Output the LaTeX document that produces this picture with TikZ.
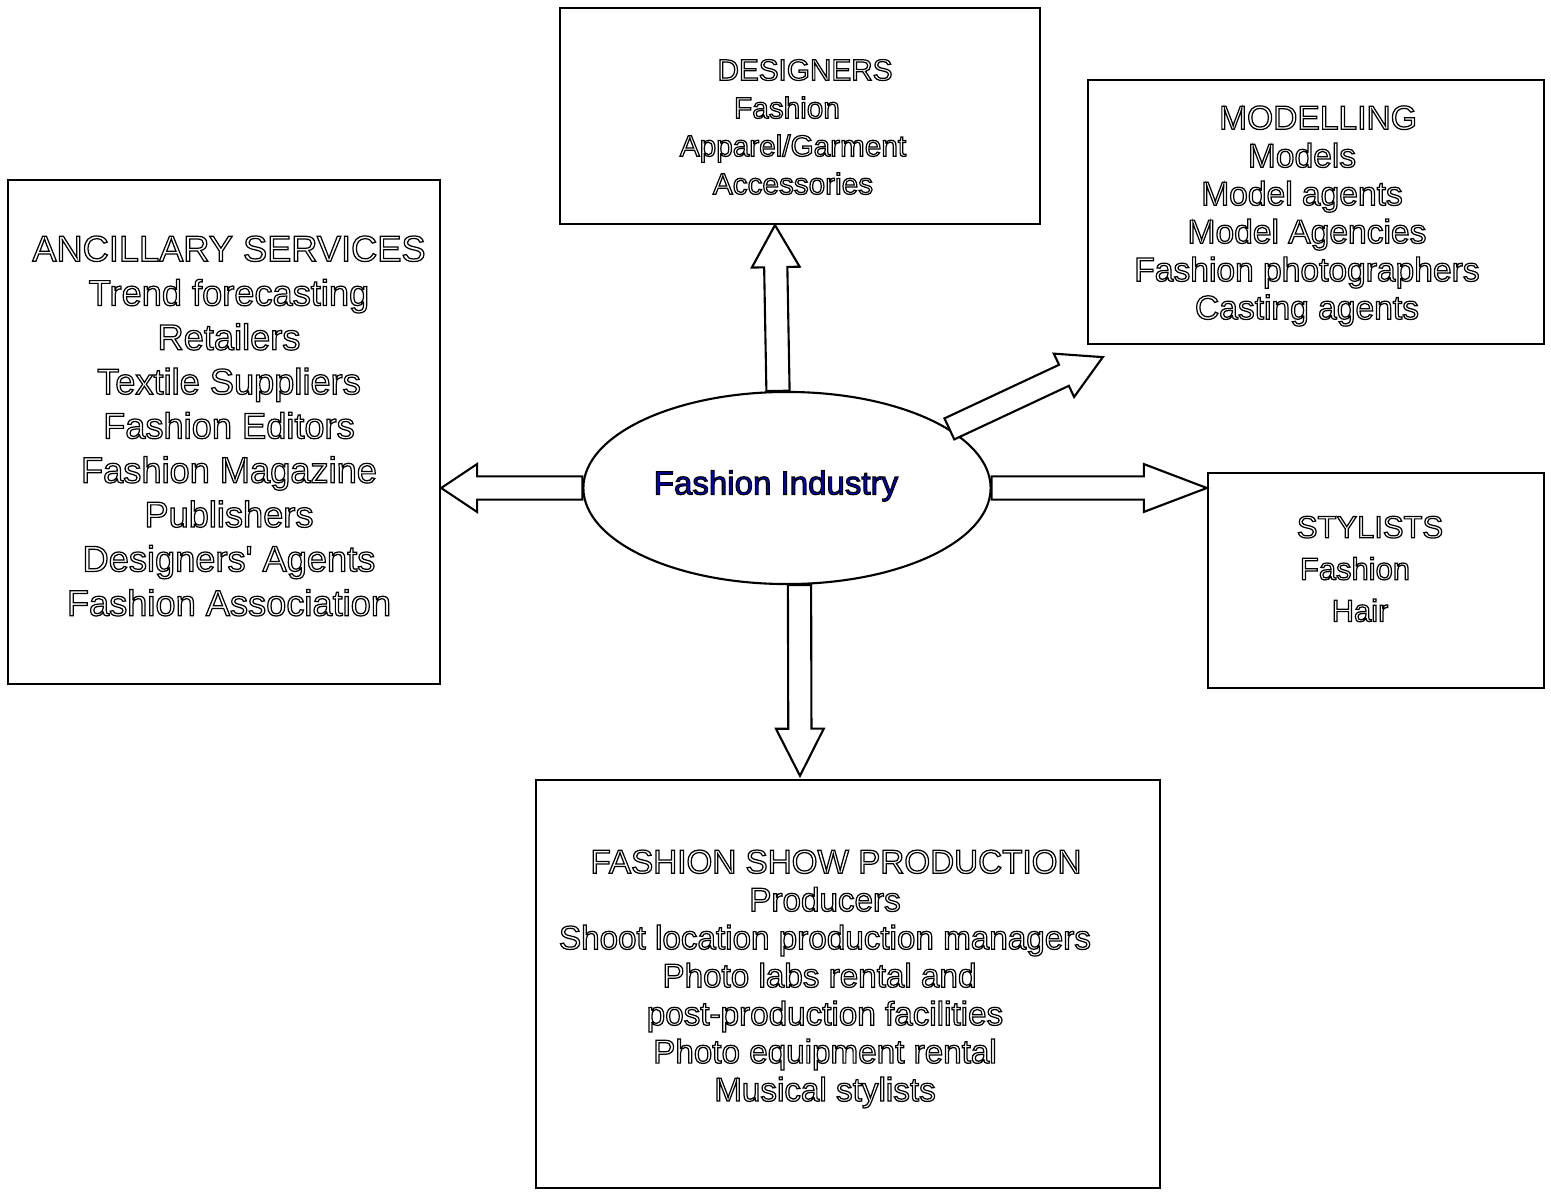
\documentclass[tikz,border=0pt]{standalone}
\usepackage{fontspec}
\setmainfont{Liberation Sans}[Ligatures=TeXOff]
\usepackage{tikz}
\usetikzlibrary{calc,shapes.geometric}

\definecolor{fiblue}{RGB}{0,0,190}
% outlined letters
\newcommand\hollow{\special{pdf:literal direct 0 0 0 RG 0.35 w 1 Tr}}
\newcommand\rimmed{\special{pdf:literal direct 0 0 0 RG 0.3 w 2 Tr}}

% fat arrow from #2 to #3, #1 = head length
\newcommand\blockarrow[3][12pt]{%
  \coordinate (hb) at ($(#3)!#1!(#2)$);
  \draw[line width=0.6pt,fill=white] ($(#2)!3.3pt!90:(#3)$) -- ($(hb)!3.3pt!90:(#3)$)
    -- ($(hb)!6.8pt!90:(#3)$) -- (#3) -- ($(hb)!6.8pt!-90:(#3)$)
    -- ($(hb)!3.3pt!-90:(#3)$) -- ($(#2)!3.3pt!-90:(#3)$) -- cycle;}

\begin{document}
\begin{tikzpicture}[x=0.01cm,y=-0.01cm]
	\useasboundingbox (0,0) rectangle (1551,1194);
		\begin{scope}[every node/.style={draw,line width=0.6pt,inner sep=0pt}]
			\node[minimum width=4.8cm,minimum height=2.16cm] (des) at (800,116) {};
			\node[minimum width=4.56cm,minimum height=2.64cm] (mod) at (1316,212) {};
			\node[minimum width=4.32cm,minimum height=5.04cm] (anc) at (224,432) {};
			\node[minimum width=3.36cm,minimum height=2.15cm] (sty) at (1376,580.5) {};
			\node[minimum width=6.24cm,minimum height=4.08cm] (fsp) at (848,984) {};
			\node[ellipse,fill=white,minimum width=4.07cm,minimum height=1.92cm,
				text=fiblue,font=\fontsize{9.4}{11}\selectfont] (fi) at (787,488)
				{\raisebox{0.11cm}{\rimmed Fashion Industry}\hspace*{0.22cm}};
		\end{scope}
		\begin{scope}[every node/.style={align=center,inner sep=0pt}]
			\node[font=\fontsize{8.45}{10.8}\selectfont] (desT) at (793,127)
				{\hollow\hspace*{0.24cm}DESIGNERS\\Fashion\kern0.12cm\\Apparel/Garment\\Accessories};
			\node[font=\fontsize{9.55}{10.8}\selectfont] (modT) at (1307,216)
				{\hollow\hspace*{0.22cm}MODELLING\\Models\kern0.1cm\\Model agents\kern0.1cm\\Model Agencies\\Fashion photographers\\Casting agents};
			\node[font=\fontsize{10.3}{12.6}\selectfont] (ancT) at (229,426)
				{\hollow ANCILLARY SERVICES\\Trend forecasting\\Retailers\\Textile Suppliers\\Fashion Editors\\Fashion Magazine\\Publishers\\Designers' Agents\\Fashion Association};
			\node[font=\fontsize{8.8}{11.9}\selectfont] (styT) at (1360,569)
				{\hollow\hspace*{0.2cm}STYLISTS\\Fashion\kern0.1cm\\Hair};
			\node[font=\fontsize{9.45}{10.8}\selectfont] (fspT) at (825,979)
				{\hollow\hspace*{0.22cm}FASHION SHOW PRODUCTION\\Producers\\Shoot location production managers\\Photo labs rental and\kern0.11cm\\post-production facilities\\Photo equipment rental\\Musical stylists};
		\end{scope}
		\coordinate (upA) at ([xshift=-0.09cm]fi.north);
		\coordinate (upB) at ([xshift=-0.25cm]des.south);
		\coordinate (dnA) at ([xshift=0.125cm]fi.south);
		\coordinate (dnB) at ([xshift=-0.48cm,yshift=0.03cm]fsp.north);
		\coordinate (ltB) at (anc.east |- fi.west);
		\coordinate (rtB) at (sty.west |- fi.east);
		\coordinate (dgB) at ([shift={(16,12)}]mod.south west);
		\blockarrow[11.95pt]{upA}{upB}
		\blockarrow[13.4pt]{dnA}{dnB}
		\blockarrow[10.2pt]{fi.west}{ltB}
		\blockarrow[17.9pt]{fi.east}{rtB}
		\blockarrow[12.2pt]{fi.20}{dgB}
	\end{tikzpicture}
\end{document}
